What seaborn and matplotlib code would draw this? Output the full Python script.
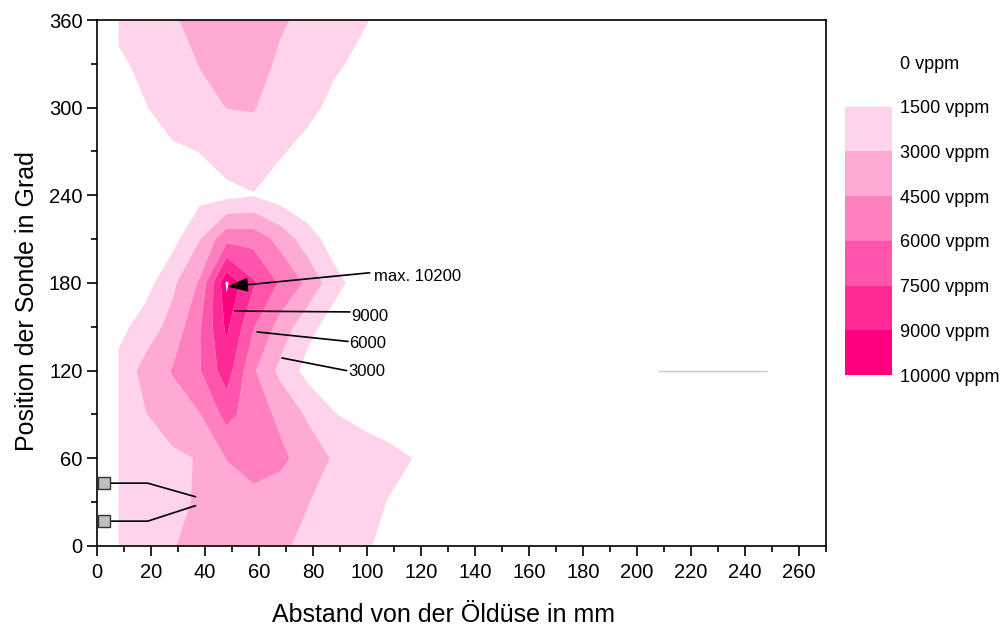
import numpy as np
import matplotlib
matplotlib.use("Agg")
import matplotlib.pyplot as plt
import seaborn as sns
from matplotlib.ticker import MultipleLocator

# ---------------- data ----------------
distance_mm = [8, 18, 28, 38, 48, 58, 68, 78, 88, 98, 108, 118, 128]
angle_deg = [0, 30, 60, 90, 120, 150, 180, 210, 240, 270, 300, 330, 360]

conc_000 = [2200, 2600, 2950, 3300, 3500, 3500, 3200, 2700, 2300, 1700, 1200, 800, 400]
conc_030 = [2300, 2600, 2800, 3100, 3700, 4000, 3800, 3050, 2500, 2000, 1450, 1000, 500]
conc_060 = [2300, 2500, 2700, 3100, 4550, 5200, 4800, 3900, 2800, 2300, 1900, 1450, 900]
conc_090 = [2200, 2950, 3800, 4450, 6500, 5200, 4200, 2800, 1550, 1100, 800, 500, 200]
conc_120 = [2000, 3500, 4600, 5900, 8300, 4700, 2600, 1000, 800, 500, 300, 100, 0]
conc_150 = [1000, 2250, 3500, 5800, 9300, 6100, 3900, 2000, 800, 300, 0, 0, 0]
conc_180 = [300, 900, 2700, 4700, 10200, 7700, 5800, 4200, 2000, 800, 200, 0, 0]
conc_210 = [0, 300, 1000, 2950, 5600, 5500, 4000, 2200, 800, 200, 0, 0, 0]
conc_240 = [0, 100, 400, 1050, 1100, 1420, 750, 300, 0, 0, 0, 0, 0]
conc_270 = [200, 700, 1300, 1520, 2200, 2600, 1650, 1000, 400, 0, 0, 0, 0]
conc_300 = [1200, 1450, 2100, 2600, 3020, 3050, 2600, 1900, 1100, 500, 0, 0, 0]
conc_330 = [1300, 1800, 2400, 3050, 3600, 3500, 2800, 2200, 1700, 1200, 600, 0, 0]
conc_360 = [1800, 2300, 2900, 3300, 3700, 3600, 3150, 2700, 2200, 1650, 1100, 500, 0]

levels = [0, 1500, 3000, 4500, 6000, 7500, 9000, 10000]
level_labels = ["0 vppm", "1500 vppm", "3000 vppm", "4500 vppm", "6000 vppm",
                "7500 vppm", "9000 vppm", "10000 vppm"]
band_colors = ["#FFFFFF", "#FFD4EA", "#FFAAD4", "#FF80BF", "#FF55AA", "#FF2A95", "#FF0080"]

# annotation: maximum
max_label = "max. 10200"
max_point = (48.5, 177.5)
max_tail = (101.0, 187.0)
max_text_pos = (102.5, 184.5)

# contour labels with leader lines
contour_labels = ["9000", "6000", "3000"]
leader_start_x = [51.0, 59.3, 68.5]
leader_start_y = [160.8, 146.5, 128.7]
leader_end_x = [93.7, 93.0, 92.5]
leader_end_y = [160.2, 140.0, 120.0]
label_x = [94.0, 93.4, 93.0]
label_y = [157.0, 138.5, 119.3]

# nozzle markers
marker_x = [2.6, 2.6]
marker_y = [43.0, 17.0]
marker_path_x = [[2.6, 18.8, 36.5], [2.6, 18.8, 36.5]]
marker_path_y = [[43.0, 43.0, 33.7], [17.0, 17.0, 27.6]]

# stray line in the plot
stray_x = [208, 248]
stray_y = [120, 120]

# ---------------- style ----------------
sns.set_theme(style="ticks")
plt.rcParams["font.family"] = ["Liberation Sans", "DejaVu Sans"]
plt.rcParams["axes.linewidth"] = 1.2
plt.rcParams["axes.edgecolor"] = "black"
plt.rcParams["text.color"] = "black"
plt.rcParams["axes.labelcolor"] = "black"
plt.rcParams["xtick.color"] = "black"
plt.rcParams["ytick.color"] = "black"

Z = np.array([conc_000, conc_030, conc_060, conc_090, conc_120, conc_150, conc_180,
              conc_210, conc_240, conc_270, conc_300, conc_330, conc_360], dtype=float)

fig = plt.figure(figsize=(10.08, 6.27), dpi=100)
ax = fig.add_axes([0.0962, 0.1292, 0.7232, 0.8389])

cs = ax.contourf(distance_mm, angle_deg, Z, levels=levels, colors=band_colors,
                 antialiased=True)

ax.plot(stray_x, stray_y, color="#D2C4C4", lw=1.0, zorder=3)

# max arrow
ax.annotate("", xy=max_point, xytext=max_tail,
            arrowprops=dict(arrowstyle="-|>,head_length=1.0,head_width=0.35",
                            color="black", lw=1.2, shrinkA=0, shrinkB=0), zorder=5)
ax.text(max_text_pos[0], max_text_pos[1], max_label, ha="left", va="center",
        fontsize=12, color="black")

for lab, x0, y0, x1, y1, tx, ty in zip(contour_labels, leader_start_x, leader_start_y,
                                       leader_end_x, leader_end_y, label_x, label_y):
    ax.plot([x0, x1], [y0, y1], color="black", lw=1.2, zorder=5)
    ax.text(tx, ty, lab, ha="left", va="center", fontsize=12, color="black")

for px, py in zip(marker_path_x, marker_path_y):
    ax.plot(px, py, color="black", lw=1.2, zorder=5)
ax.plot(marker_x, marker_y, linestyle="none", marker="s", markersize=8.5,
        markerfacecolor="#BEBEBE", markeredgecolor="#333333", markeredgewidth=1.0,
        zorder=6, clip_on=False)

ax.set_xlim(0, 270)
ax.set_ylim(0, 360)
ax.set_xticks(np.arange(0, 261, 20))
ax.set_yticks(np.arange(0, 361, 60))
ax.xaxis.set_minor_locator(MultipleLocator(10))
ax.yaxis.set_minor_locator(MultipleLocator(30))
ax.tick_params(which="major", direction="out", length=7.5, width=1.2, labelsize=14.5,
               colors="black", top=False, right=False)
ax.tick_params(axis="x", which="major", pad=4.5)
ax.tick_params(axis="y", which="major", pad=3)
ax.tick_params(which="minor", direction="out", length=4, width=1.2,
               top=False, right=False)
for s in ax.spines.values():
    s.set_visible(True)
    s.set_linewidth(1.2)
    s.set_color("black")

ax.set_xlabel("Abstand von der Öldüse in mm", fontsize=18, color="black")
ax.set_ylabel("Position der Sonde in Grad", fontsize=18, color="black")
ax.xaxis.set_label_coords(0.475, -0.108)
ax.yaxis.set_label_coords(-0.080, 0.466)

# legend as colour bar
cax = fig.add_axes([0.8383, 0.4019, 0.0466, 0.4992])
cb = fig.colorbar(cs, cax=cax, ticks=levels)
cax.invert_yaxis()
cb.outline.set_visible(False)
cb.set_ticklabels(level_labels)
cax.tick_params(length=0, labelsize=13, pad=6, colors="black")

fig.savefig("out.png", dpi=100)
